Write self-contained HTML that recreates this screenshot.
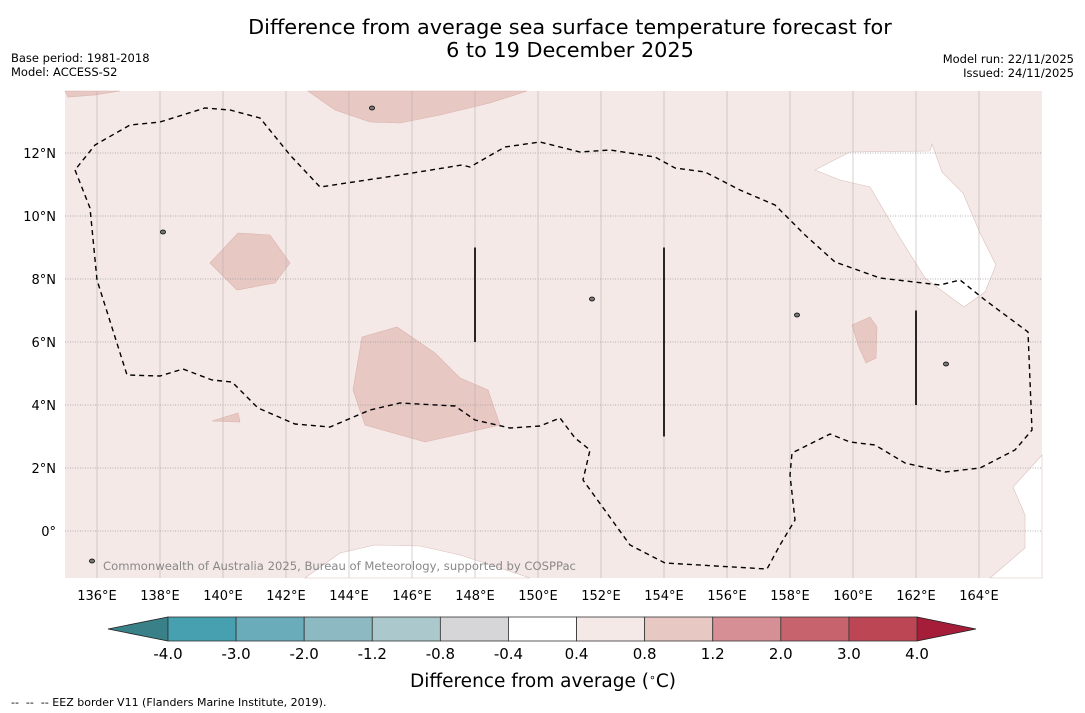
<!DOCTYPE html>
<html><head><meta charset="utf-8">
<style>
body{margin:0;background:#fff;font-family:"DejaVu Sans","Liberation Sans",sans-serif;}
svg{display:block}
</style></head>
<body>
<svg id="s" width="1085" height="713" xmlns="http://www.w3.org/2000/svg">
<text x="570" y="34" text-anchor="middle" font-size="20.8">Difference from average sea surface temperature forecast for</text>
<text x="570" y="57" text-anchor="middle" font-size="20.8">6 to 19 December 2025</text>
<text x="11" y="62" font-size="11.5">Base period: 1981-2018</text>
<text x="11" y="76" font-size="11.5">Model: ACCESS-S2</text>
<text x="1074" y="63" font-size="11.5" text-anchor="end">Model run: 22/11/2025</text>
<text x="1074" y="77" font-size="11.5" text-anchor="end">Issued: 24/11/2025</text>
<g id="map"></g>
<g id="cbar"></g>
<text x="543" y="687" text-anchor="middle" font-size="18.5">Difference from average (<tspan baseline-shift="super" font-size="11">∘</tspan>C)</text>
<text x="11" y="706" font-size="11">--&#160;&#160;--&#160;&#160;-- EEZ border V11 (Flanders Marine Institute, 2019).</text>
</svg>
<script>
const lonTicks=[136,138,140,142,144,146,148,150,152,154,156,158,160,162,164];
const latTicks=[0,2,4,6,8,10,12];
const cbLevels=["-4.0","-3.0","-2.0","-1.2","-0.8","-0.4","0.4","0.8","1.2","2.0","3.0","4.0"];
const cbColors=["#47a0b0","#6aacba","#8db9c3","#abc9cc","#d6d6d8","#ffffff","#f5e9e7","#e8c8c3","#d68f95","#c7636d","#bd4655"];
const L=65,R=1042,T=91,B=578;
const px=lon=>65.5+(lon-135)*31.5, py=lat=>531-lat*31.5;
const NS="http://www.w3.org/2000/svg";
function mk(p,t,a){const e=document.createElementNS(NS,t);for(const k in a)e.setAttribute(k,a[k]);p.appendChild(e);return e;}
const map=document.getElementById('map');
const bg=mk(map,'rect',{x:L,y:T,width:R-L,height:B-T,fill:'#f5e9e7'});


const patchesWarm=[
[[308,91],[335,110],[370,122],[400,123],[440,115],[490,103],[527,91]],
[[65,91],[68,97],[95,95],[120,91]],
[[210,263],[238,233],[270,235],[290,263],[275,283],[237,290]],
[[362,337],[397,327],[435,353],[460,378],[488,390],[500,425],[425,442],[365,425],[353,390]],
[[212,421],[238,413],[240,422]],
[[852,325],[870,317],[877,327],[876,358],[866,363],[858,345]]];
const patchesWhite=[
[[815,170],[850,152],[930,151],[932,144],[942,172],[963,193],[980,233],[996,265],[985,292],[964,307],[938,288],[925,278],[900,238],[870,187],[840,180]],
[[1042,455],[1013,487],[1025,515],[1025,548],[990,578],[1042,578]],
[[305,578],[340,553],[375,545],[420,546],[460,555],[500,568],[530,578]]];
patchesWarm.forEach(p=>{const e=mk(map,'polygon',{points:p.join(' '),fill:'#e8c8c3',stroke:'#d9b3ad','stroke-width':0.6});

});
patchesWhite.forEach(p=>{const e=mk(map,'polygon',{points:p.join(' '),fill:'#ffffff',stroke:'#d9c0bc','stroke-width':0.6});

});
lonTicks.forEach(l=>{const g=mk(map,'line',{x1:px(l),x2:px(l),y1:T,y2:B,stroke:'#b8b0b0','stroke-width':0.6});


const t=mk(map,'text',{x:px(l),y:600,'text-anchor':'middle','font-size':13});t.textContent=l+'°E';

});
latTicks.forEach(l=>{const g=mk(map,'line',{x1:L,x2:R,y1:py(l),y2:py(l),stroke:'#999','stroke-width':0.7,'stroke-dasharray':'1,1.5'});


const t=mk(map,'text',{x:56,y:py(l)+5,'text-anchor':'end','font-size':13});t.textContent=l===0?'0°':l+'°N';

});
const eez=[[75,170],[90,208],[97,280],[127,375],[160,376],[183,369],[212,380],[232,382],[258,408],[295,424],[330,427],[370,410],[400,403],[455,406],[475,420],[510,428],[540,426],[560,418],[575,438],[590,450],[583,480],[630,545],[665,563],[767,569],[780,545],[795,520],[790,475],[792,453],[830,434],[850,442],[875,445],[905,463],[945,472],[980,468],[1015,450],[1032,430],[1028,332],[985,300],[960,280],[940,285],[880,278],[835,262],[805,235],[775,205],[740,190],[705,172],[675,168],[655,157],[610,150],[580,152],[540,142],[505,147],[470,167],[462,165],[400,175],[320,187],[290,155],[260,118],[230,110],[205,108],[160,122],[130,125],[95,145],[75,170]];
const e=mk(map,'polyline',{points:eez.join(' '),fill:'none',stroke:'#000','stroke-width':1.4,'stroke-dasharray':'5,4'});


const segs=[[148,9,6],[154,9,3],[162,7,4]];
segs.forEach(s=>{const l=mk(map,'line',{x1:px(s[0]),x2:px(s[0]),y1:py(s[1]),y2:py(s[2]),stroke:'#111','stroke-width':1.8});

});
const isl=[[372,108],[797,315],[163,232],[592,299],[946,364],[92,561]];
isl.forEach(p=>{const c=mk(map,'ellipse',{cx:p[0],cy:p[1],rx:2.5,ry:2,fill:'#777',stroke:'#000','stroke-width':0.8});

});
const cr=mk(map,'text',{x:103,y:570,'font-size':11.6,fill:'#888'});cr.textContent='Commonwealth of Australia 2025, Bureau of Meteorology, supported by COSPPac';


const cb=document.getElementById('cbar');
const x0=168,x1=917,y0=617,y1=641,w=(x1-x0)/cbColors.length;
const tl=mk(cb,'polygon',{points:`${x0},${y0} ${x0},${y1} 108,629`,fill:'#3a8089',stroke:'#222','stroke-width':0.8});


const tr=mk(cb,'polygon',{points:`${x1},${y0} ${x1},${y1} 976,629`,fill:'#a61d3a',stroke:'#222','stroke-width':0.8});


cbColors.forEach((c,i)=>{const r=mk(cb,'rect',{x:x0+i*w,y:y0,width:w,height:y1-y0,fill:c,stroke:'#333','stroke-width':0.8});

});
cbLevels.forEach((v,i)=>{const t=mk(cb,'text',{x:x0+i*w,y:659,'text-anchor':'middle','font-size':15});t.textContent=v;

});
</script>
</body></html>
